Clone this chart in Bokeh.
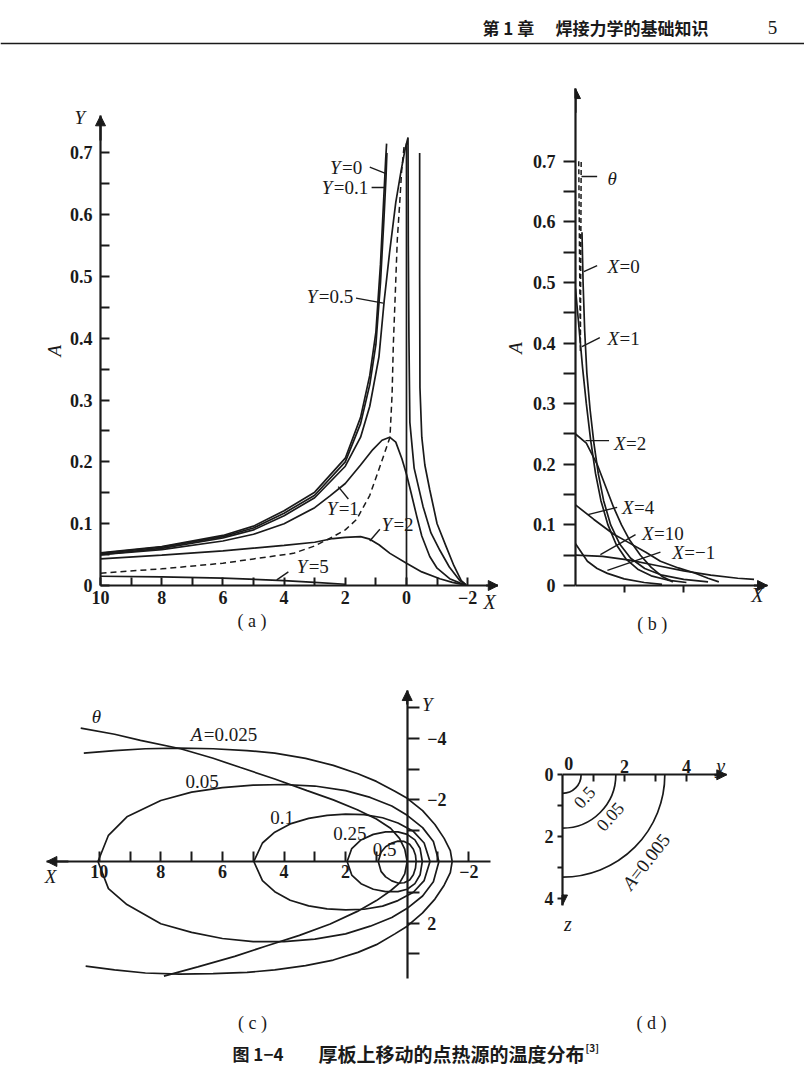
import math
from bokeh.plotting import figure
from bokeh.models import Range1d, FixedTicker, Label, Arrow, NormalHead, Span
from bokeh.layouts import column, row
from bokeh.embed import file_html
from bokeh.resources import INLINE

INK = "#1a1a1a"
SERIF = "Liberation Serif"
CJK = "Noto Sans CJK SC"

# ---------------- panel (a): A versus X for several Y ----------------
a_xticks = [10, 8, 6, 4, 2, 0, -2]
a_xlabels = ["10", "8", "6", "4", "2", "0", "\u22122"]
a_xminor = [9, 7, 5, 3, 1, -1]
a_yticks = [0, 0.1, 0.2, 0.3, 0.4, 0.5, 0.6, 0.7]
a_ylabels = ["0", "0.1", "0.2", "0.3", "0.4", "0.5", "0.6", "0.7"]
a_yminor = [0.05, 0.15, 0.25, 0.35, 0.45, 0.55, 0.65]

a_y0_x = [10, 8, 6, 5, 4, 3, 2, 1.5, 1.2, 1.0, 0.85, 0.75, 0.68, 0.65]
a_y0_A = [0.053, 0.063, 0.081, 0.096, 0.121, 0.151, 0.206, 0.272, 0.34, 0.41, 0.52, 0.62, 0.69, 0.715]
a_y01_x = [10, 8, 6, 5, 4, 3, 2, 1.5, 1.2, 1.0, 0.85, 0.74, 0.67, 0.64]
a_y01_A = [0.052, 0.062, 0.079, 0.093, 0.117, 0.146, 0.2, 0.262, 0.325, 0.39, 0.49, 0.59, 0.66, 0.70]
a_r1_x = [-0.43, -0.43, -0.44, -0.5, -0.6, -0.76, -1.0, -1.3, -1.55, -1.79, -1.95]
a_r1_A = [0.70, 0.5, 0.32, 0.24, 0.195, 0.155, 0.1, 0.0625, 0.032, 0.008, 0.001]
a_y05_x = [10, 8, 6, 5, 4, 3, 2, 1.5, 1.2, 0.9, 0.73, 0.55, 0.35, 0.18, 0.05, -0.05,
           -0.06, -0.08, -0.11, -0.25, -0.54, -0.8, -1.09, -1.4, -1.74, -1.95]
a_y05_A = [0.05, 0.06, 0.077, 0.09, 0.113, 0.142, 0.193, 0.24, 0.29, 0.37, 0.46, 0.54, 0.62, 0.67, 0.705, 0.725,
           0.55, 0.4, 0.264, 0.19, 0.128, 0.085, 0.057, 0.03, 0.008, 0.001]
a_x0_x = [0, 0]
a_x0_A = [0, 0.715]
a_theta_x = [10, 8, 6, 5, 3.7, 3, 2.4, 2.0, 1.63, 1.2, 0.85, 0.54, 0.47, 0.43, 0.36, 0.3, 0.22, 0.16, 0.08]
a_theta_A = [0.02, 0.027, 0.036, 0.043, 0.052, 0.064, 0.079, 0.09, 0.107, 0.146, 0.195, 0.24, 0.31, 0.39, 0.48, 0.56, 0.62, 0.67, 0.71]
a_y1_x = [10, 8, 6, 5, 4, 3, 2.5, 2, 1.5, 1.1, 0.8, 0.55, 0.35, 0.15, 0, -0.15, -0.33, -0.5, -0.76, -1.0, -1.41, -1.9]
a_y1_A = [0.05, 0.058, 0.072, 0.083, 0.1, 0.126, 0.145, 0.165, 0.195, 0.22, 0.235, 0.24, 0.232, 0.205, 0.18, 0.15, 0.113, 0.08, 0.047, 0.028, 0.011, 0.001]
a_y2_x = [10, 8, 6, 4, 3, 2.4, 2.0, 1.5, 1.2, 0.9, 0.54, 0, -0.5, -1.09, -1.5, -1.9]
a_y2_A = [0.043, 0.049, 0.056, 0.065, 0.07, 0.076, 0.078, 0.079, 0.075, 0.066, 0.052, 0.036, 0.022, 0.011, 0.005, 0.001]
a_y5_x = [10, 8, 6, 4, 3, 2]
a_y5_A = [0.015, 0.014, 0.012, 0.008, 0.005, 0.002]

a_lab_name = ["=0", "=0.1", "=0.5", "=1", "=2", "=5"]
a_lab_x = [2.5, 2.77, 3.26, 2.61, 0.82, 3.59]
a_lab_A = [0.677, 0.644, 0.468, 0.124, 0.099, 0.031]
a_lead_x = [[1.2, 0.65], [1.14, 0.71], [1.65, 0.76], [1.9, 2.23], [0.87, 1.2], [3.86, 4.24]]
a_lead_A = [[0.677, 0.666], [0.644, 0.644], [0.465, 0.457], [0.14, 0.16], [0.091, 0.072], [0.022, 0.009]]

# ---------------- panel (b): A versus transverse distance for several X ----------------
b_yticks = [0, 0.1, 0.2, 0.3, 0.4, 0.5, 0.6, 0.7]
b_ylabels = ["0", "0.1", "0.2", "0.3", "0.4", "0.5", "0.6", "0.7"]
b_yminor = [0.05, 0.15, 0.25, 0.35, 0.45, 0.55, 0.65]
b_xminor = [0.9, 2.0]

b_theta_x = [0.06, 0.09, 0.105]
b_theta_A = [0.70, 0.385, 0.70]
b_x0_x = [0.12, 0.14, 0.17, 0.21, 0.27, 0.34, 0.42, 0.52, 0.65, 0.82, 1.02, 1.28, 1.6, 2.0, 2.45]
b_x0_A = [0.583, 0.5, 0.42, 0.35, 0.29, 0.235, 0.185, 0.14, 0.1, 0.068, 0.045, 0.028, 0.017, 0.01, 0.006]
b_x1_x = [0.0, 0.04, 0.08, 0.13, 0.2, 0.28, 0.37, 0.47, 0.6, 0.75, 0.93, 1.15, 1.4, 1.7, 2.05]
b_x1_A = [0.49, 0.45, 0.41, 0.36, 0.3, 0.24, 0.185, 0.14, 0.1, 0.068, 0.044, 0.027, 0.016, 0.009, 0.005]
b_x2_x = [0.0, 0.2, 0.4, 0.55, 0.7, 0.85, 1.0, 1.2, 1.4, 1.6, 1.8]
b_x2_A = [0.25, 0.235, 0.2, 0.165, 0.13, 0.1, 0.075, 0.05, 0.03, 0.015, 0.006]
b_x4_x = [0.0, 0.34, 0.7, 0.96, 1.3, 1.57, 1.9, 2.19, 2.45, 2.65]
b_x4_A = [0.133, 0.109, 0.085, 0.072, 0.055, 0.04, 0.029, 0.021, 0.012, 0.006]
b_x10_x = [0.0, 0.5, 1.0, 1.5, 2.0, 2.5, 3.0, 3.3]
b_x10_A = [0.05, 0.048, 0.042, 0.033, 0.024, 0.017, 0.012, 0.01]
b_xm1_x = [0.0, 0.22, 0.4, 0.59, 0.9, 1.27, 1.6]
b_xm1_A = [0.069, 0.04, 0.028, 0.02, 0.011, 0.005, 0.002]

b_lab_name = ["=0", "=1", "=2", "=4", "=10", "=\u22121"]
b_lab_x = [0.59, 0.59, 0.71, 0.86, 1.23, 1.79]
b_lab_A = [0.527, 0.408, 0.235, 0.129, 0.085, 0.054]
b_lead_x = [[0.154, 0.40], [0.12, 0.45], [0.185, 0.62], [0.23, 0.77], [0.46, 1.11], [0.59, 1.57]]
b_lead_A = [[0.518, 0.528], [0.394, 0.409], [0.239, 0.239], [0.117, 0.129], [0.051, 0.084], [0.025, 0.055]]
b_theta_lab = (0.59, 0.672)
b_theta_lead_x = [0.11, 0.40]
b_theta_lead_A = [0.675, 0.675]

# ---------------- panel (c): isotherms in the X-Y plane ----------------
c_xticks = [10, 8, 6, 4, 2, -2]
c_xlabels = ["10", "8", "6", "4", "2", "\u22122"]
c_xminor = [9, 7, 5, 3, 1, -1]
c_yticks = [-4, -2, 2]
c_ylabels = ["\u22124", "\u22122", "2"]
c_yminor = [-5, -3, -1, 1, 3]

c05_x = [0.94, 0.85, 0.7, 0.5, 0.3, 0.1, -0.08, -0.2, -0.27, -0.29]
c05_up = [0, -0.3, -0.48, -0.6, -0.66, -0.65, -0.56, -0.4, -0.2, 0]
c05_dn = [0, 0.32, 0.5, 0.63, 0.7, 0.69, 0.6, 0.43, 0.21, 0]
c025_x = [1.95, 1.8, 1.5, 1.1, 0.7, 0.3, 0, -0.25, -0.42, -0.49]
c025_up = [0, -0.42, -0.7, -0.88, -0.96, -0.96, -0.88, -0.7, -0.42, 0]
c025_dn = [0, 0.44, 0.72, 0.9, 0.98, 0.98, 0.9, 0.72, 0.43, 0]
c01_x = [4.98, 4.7, 4.3, 3.8, 3.2, 2.6, 2.0, 1.4, 0.8, 0.3, -0.2, -0.55, -0.74]
c01_up = [0, -0.6, -0.95, -1.22, -1.4, -1.5, -1.54, -1.52, -1.42, -1.25, -0.98, -0.6, 0]
c01_dn = [0, 0.62, 0.98, 1.26, 1.44, 1.54, 1.57, 1.55, 1.45, 1.27, 1.0, 0.62, 0]
c005_x = [10.04, 9.7, 9.1, 8.0, 7.0, 6.0, 5.0, 4.0, 3.0, 2.0, 1.2, 0.5, 0, -0.5, -0.85, -1.03]
c005_up = [0, -0.85, -1.45, -1.98, -2.25, -2.4, -2.48, -2.5, -2.45, -2.3, -2.08, -1.8, -1.5, -1.1, -0.65, 0]
c005_dn = [0, 0.88, 1.4, 2.02, 2.3, 2.5, 2.6, 2.6, 2.52, 2.35, 2.1, 1.82, 1.52, 1.12, 0.66, 0]
c0025_x = [10.5, 9.5, 8.5, 7.4, 6.3, 5.2, 4.3, 3.3, 2.4, 1.6, 1.0, 0.4, 0, -0.5, -0.9, -1.2, -1.4, -1.46,
           -1.4, -1.2, -0.9, -0.5, 0, 0.4, 1.0, 1.6, 2.4, 3.3, 4.3, 5.2, 6.3, 7.4, 8.5, 9.5, 10.44]
c0025_y = [-3.52, -3.6, -3.66, -3.68, -3.66, -3.6, -3.52, -3.35, -3.12, -2.85, -2.6, -2.28, -2.05, -1.65, -1.2, -0.75, -0.35, 0,
           0.36, 0.77, 1.22, 1.67, 2.1, 2.35, 2.7, 2.95, 3.2, 3.38, 3.52, 3.6, 3.64, 3.66, 3.62, 3.52, 3.4]
c_theta_x = [10.6, 9.5, 8.66, 7.36, 6.3, 5.41, 4.3, 3.25, 2.4, 1.62, 1.0, 0.54, 0.25, 0.08, 0,
             0.08, 0.25, 0.54, 1.0, 1.62, 2.5, 3.5, 4.6, 5.6, 6.8, 7.9]
c_theta_y = [-4.33, -4.13, -3.93, -3.66, -3.35, -3.05, -2.68, -2.3, -2.0, -1.68, -1.38, -1.08, -0.75, -0.4, 0,
             0.4, 0.7, 0.95, 1.27, 1.62, 2.03, 2.4, 2.75, 3.08, 3.42, 3.72]
c_lab_text = ["0.05", "0.1", "0.25", "0.5"]
c_lab_x = [6.66, 4.06, 1.86, 0.73]
c_lab_y = [-2.6, -1.43, -0.92, -0.38]

# ---------------- panel (d): isotherms in the y-z cross section ----------------
d_top_ticks = [2, 4]
d_top_labels = ["2", "4"]
d_left_ticks = [0, 2, 4]
d_left_labels = ["0", "2", "4"]
d_minor = [1, 3]
d_radius = [0.6, 1.72, 3.3]
d_lab_text = ["0.5", "0.05"]
d_lab_y = [0.70, 1.53]
d_lab_z = [0.72, 1.34]


def base(w, h, xr, yr, bl, br, bt, bb, xloc="below", yloc="left"):
    p = figure(width=w, height=h, x_range=xr, y_range=yr, output_backend="svg",
               toolbar_location=None, title=None, x_axis_location=xloc, y_axis_location=yloc,
               min_border_left=bl, min_border_right=br, min_border_top=bt, min_border_bottom=bb)
    p.grid.visible = False
    p.outline_line_color = None
    p.background_fill_color = "white"
    p.border_fill_color = "white"
    return p


def style_axis(ax, ticks, minor, labels, tin, tout, standoff, loc, bounds, size="18px"):
    ax.ticker = FixedTicker(ticks=ticks, minor_ticks=minor)
    if labels:
        ax.major_label_overrides = {t: l for t, l in zip(ticks, labels)}
    if loc is not None:
        ax.fixed_location = loc
    ax.bounds = bounds
    ax.axis_line_color = INK
    ax.axis_line_width = 2.2
    ax.major_tick_line_color = INK
    ax.minor_tick_line_color = INK
    ax.major_tick_line_width = 2
    ax.minor_tick_line_width = 2
    ax.major_tick_in = tin
    ax.major_tick_out = tout
    ax.minor_tick_in = tin
    ax.minor_tick_out = tout
    ax.major_label_standoff = standoff
    ax.major_label_text_font = SERIF
    ax.major_label_text_font_style = "bold"
    ax.major_label_text_font_size = size
    ax.major_label_text_color = INK


def lab(p, x, y, text, size=19, style="normal", align="center", baseline="middle",
        angle=0.0, font=SERIF, xoff=0, yoff=0):
    p.add_layout(Label(x=x, y=y, text=text, text_font=font, text_font_size=f"{size}px",
                       text_font_style=style, text_align=align, text_baseline=baseline,
                       angle=angle, text_color=INK, x_offset=xoff, y_offset=yoff))


def arrow(p, xs, ys, xe, ye):
    p.add_layout(Arrow(end=NormalHead(size=10, fill_color=INK, line_color=INK, line_width=1),
                       x_start=xs, y_start=ys, x_end=xe, y_end=ye, line_color=INK, line_width=2.2))


LW = 1.7

# ---------------- figure (a) ----------------
pa = base(498, 603, Range1d(11.961, -3.007), Range1d(-0.0809, 0.8495), 40, 0, 0, 28)
style_axis(pa.xaxis[0], a_xticks, a_xminor, a_xlabels, 8, 0, 5, 0, (-3, 10))
style_axis(pa.yaxis[0], a_yticks, a_yminor, a_ylabels, 9, 0, 8, 10, (0, 0.76))
for xs, ys in [(a_y0_x, a_y0_A), (a_y01_x, a_y01_A), (a_r1_x, a_r1_A), (a_y05_x, a_y05_A),
               (a_x0_x, a_x0_A), (a_y1_x, a_y1_A), (a_y2_x, a_y2_A), (a_y5_x, a_y5_A)]:
    pa.line(xs, ys, line_color=INK, line_width=LW)
pa.line(a_theta_x, a_theta_A, line_color=INK, line_width=1.5, line_dash="6 4")
for xs, ys in zip(a_lead_x, a_lead_A):
    pa.line(xs, ys, line_color=INK, line_width=1.4)
for t, x, y in zip(a_lab_name, a_lab_x, a_lab_A):
    lab(pa, x, y, "Y", style="italic", align="left")
    lab(pa, x, y, t, align="left", xoff=12)
arrow(pa, -2.6, 0, -3, 0)
arrow(pa, 10, 0.72, 10, 0.76)
lab(pa, 10.68, 0.757, "Y", style="italic")
lab(pa, 11.49, 0.38, "A", style="italic", angle=math.pi / 2)
lab(pa, -2.72, -0.0275, "X", size=20, style="italic")
lab(pa, 5.05, -0.058, "( a )", size=18)

# ---------------- figure (b) ----------------
pb = base(306, 603, Range1d(0, 4.233), Range1d(-0.0825, 0.8663), 77, 0, 0, 28)
style_axis(pb.xaxis[0], [], b_xminor, None, 0, 7, 4, 0, (0, 3.55))
style_axis(pb.yaxis[0], b_yticks, b_yminor, b_ylabels, 0, 12, 8, None, (0, 0.82))
pb.yaxis[0].axis_label = "A"
pb.yaxis[0].axis_label_text_font = SERIF
pb.yaxis[0].axis_label_text_font_style = "italic"
pb.yaxis[0].axis_label_text_font_size = "19px"
pb.yaxis[0].axis_label_text_color = INK
pb.yaxis[0].axis_label_standoff = 4
for xs, ys in [(b_x0_x, b_x0_A), (b_x1_x, b_x1_A), (b_x2_x, b_x2_A), (b_x4_x, b_x4_A),
               (b_x10_x, b_x10_A), (b_xm1_x, b_xm1_A)]:
    pb.line(xs, ys, line_color=INK, line_width=LW)
pb.line(b_theta_x, b_theta_A, line_color=INK, line_width=1.5, line_dash="5 3")
for xs, ys in zip(b_lead_x, b_lead_A):
    pb.line(xs, ys, line_color=INK, line_width=1.4)
pb.line(b_theta_lead_x, b_theta_lead_A, line_color=INK, line_width=1.4)
for t, x, y in zip(b_lab_name, b_lab_x, b_lab_A):
    lab(pb, x, y, "X", style="italic", align="left")
    lab(pb, x, y, t, align="left", xoff=12)
lab(pb, b_theta_lab[0], b_theta_lab[1], "\u03b8", style="italic", align="left")
arrow(pb, 3.3, 0, 3.55, 0)
arrow(pb, 0, 0.78, 0, 0.82)
lab(pb, 3.36, -0.015, "X", size=20, style="italic")
lab(pb, 1.42, -0.063, "( b )", size=18)

# ---------------- figure (c) ----------------
pc = base(540, 345, Range1d(13.205, -2.867), Range1d(3.864, -5.649), 0, 45, 24, 28, xloc="below", yloc="right")
style_axis(pc.xaxis[0], c_xticks, c_xminor, c_xlabels, 10, 0, 4, 0, (-2.7, 11.7))
style_axis(pc.yaxis[0], c_yticks, c_yminor, c_ylabels, 0, 12, 8, 0, (-5.55, 3.8))
for xs, up, dn in [(c05_x, c05_up, c05_dn), (c025_x, c025_up, c025_dn), (c01_x, c01_up, c01_dn),
                   (c005_x, c005_up, c005_dn)]:
    pc.line(xs, up, line_color=INK, line_width=LW)
    pc.line(xs, dn, line_color=INK, line_width=LW)
pc.line(c0025_x, c0025_y, line_color=INK, line_width=LW)
pc.line(c_theta_x, c_theta_y, line_color=INK, line_width=LW)
for t, x, y in zip(c_lab_text, c_lab_x, c_lab_y):
    lab(pc, x, y, t)
lab(pc, 7.03, -4.11, "A", style="italic", align="left")
lab(pc, 7.03, -4.11, "=0.025", align="left", xoff=13)
lab(pc, 10.09, -4.71, "\u03b8", style="italic")
lab(pc, -0.65, -5.09, "Y", style="italic")
lab(pc, 11.58, 0.49, "X", style="italic")
arrow(pc, 11.0, 0, 11.7, 0)
arrow(pc, 0, -5.1, 0, -5.55)

# ---------------- figure (d) ----------------
pd_ = base(264, 345, Range1d(0, 7.806), Range1d(6.635, -2.816), 22, 0, 24, 28, xloc="above", yloc="left")
style_axis(pd_.xaxis[0], d_top_ticks, d_minor, d_top_labels, 7, 0, 2, 0, (0, 5.3))
style_axis(pd_.yaxis[0], d_left_ticks, d_minor, d_left_labels, 0, 5, 4, None, (0, 4.2))
pd_.arc(x=[0] * len(d_radius), y=[0] * len(d_radius), radius=d_radius,
        start_angle=-math.pi / 2, end_angle=0, direction="anticlock", line_color=INK, line_width=LW)
for t, x, y in zip(d_lab_text, d_lab_y, d_lab_z):
    lab(pd_, x, y, t, size=18, angle=math.radians(48))
lab(pd_, 2.28, 3.33, "A", size=19, style="italic", align="right", angle=math.radians(52))
lab(pd_, 2.28, 3.33, "=0.005", size=19, align="left", angle=math.radians(52))
arrow(pd_, 4.9, 0, 5.3, 0)
arrow(pd_, 0, 3.85, 0, 4.2)
lab(pd_, 0.2, -0.36, "0", size=18, style="bold")
lab(pd_, 5.1, -0.3, "y", size=20, style="italic")
lab(pd_, 0.17, 4.8, "z", size=20, style="italic")

# ---------------- header, sub-captions and caption ----------------
ph = base(804, 60, Range1d(0, 804), Range1d(60, 0), 0, 0, 0, 0, xloc=None, yloc=None)
ph.add_layout(Span(location=43, dimension="width", line_color=INK, line_width=1.6))
lab(ph, 482, 27, "第 1 章", size=17, style="bold", align="left", font=CJK)
lab(ph, 555, 27, "焊接力学的基础知识", size=17, style="bold", align="left", font=CJK)
lab(ph, 772, 27, "5", size=19, align="center")

pcap = base(804, 77, Range1d(0, 804), Range1d(77, 0), 0, 0, 0, 0, xloc=None, yloc=None)
lab(pcap, 252, 14, "( c )", size=18)
lab(pcap, 651, 14, "( d )", size=18)
lab(pcap, 232, 45, "图 1\u22124", size=17, style="bold", align="left", font=CJK)
lab(pcap, 318, 45, "厚板上移动的点热源的温度分布", size=19, style="bold", align="left", font=CJK)
lab(pcap, 585, 39, "[3]", size=10, style="bold", align="left", font=CJK)

layout = column(ph, row(pa, pb), row(pc, pd_), pcap)
open("out.html", "w").write(file_html(layout, INLINE))
